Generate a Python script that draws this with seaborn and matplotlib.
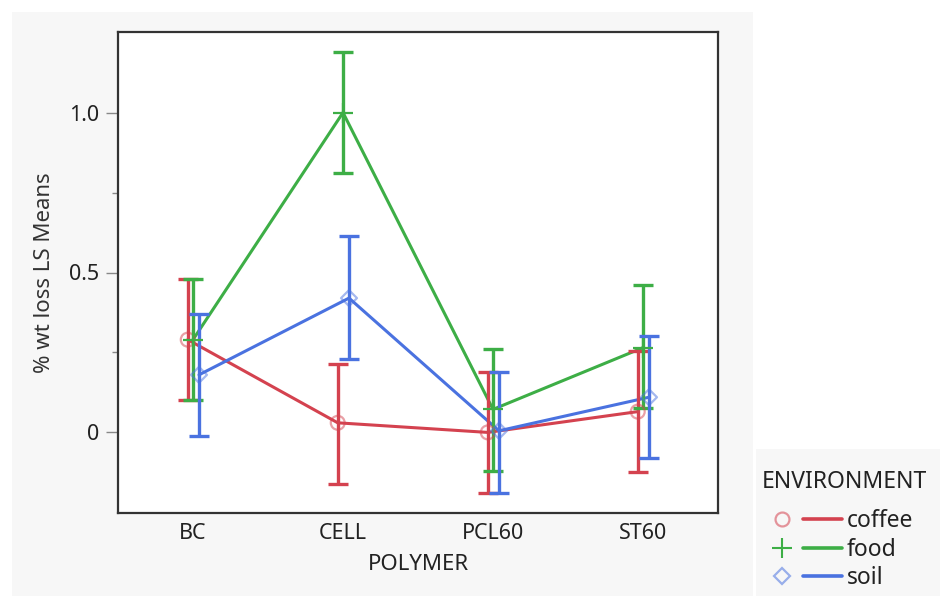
import matplotlib
matplotlib.use("Agg")
import matplotlib.pyplot as plt
from matplotlib.patches import Rectangle
from matplotlib.lines import Line2D
from matplotlib.legend_handler import HandlerTuple
import numpy as np
import pandas as pd
import seaborn as sns

# LS means of % weight loss by polymer and environment, with interval bounds
polymers = ["BC", "CELL", "PCL60", "ST60"]
environments = ["coffee", "food", "soil"]

coffee_mean = [0.29, 0.03, 0.00, 0.065]
coffee_low = [0.10, -0.16, -0.19, -0.125]
coffee_high = [0.48, 0.215, 0.19, 0.255]

food_mean = [0.29, 1.00, 0.072, 0.265]
food_low = [0.10, 0.81, -0.12, 0.075]
food_high = [0.48, 1.19, 0.26, 0.46]

soil_mean = [0.18, 0.42, 0.005, 0.11]
soil_low = [-0.01, 0.23, -0.19, -0.08]
soil_high = [0.37, 0.615, 0.19, 0.30]

yticks = [0, 0.5, 1.0]
ytick_labels = ["0", "0.5", "1.0"]

colors = {"coffee": "#D4424F", "food": "#3DAE46", "soil": "#4A72E0"}
markers = {"coffee": "o", "food": "+", "soil": "D"}
offsets = {"coffee": -0.035, "food": 0.0, "soil": 0.04}

rows = []
for env, m, lo, hi in [("coffee", coffee_mean, coffee_low, coffee_high),
                       ("food", food_mean, food_low, food_high),
                       ("soil", soil_mean, soil_low, soil_high)]:
    for i, p in enumerate(polymers):
        rows.append({"POLYMER": p, "ENVIRONMENT": env, "pos": i + offsets[env],
                     "mean": m[i], "low": lo[i], "high": hi[i]})
df = pd.DataFrame(rows)

sns.set_theme(style="white")
plt.rcParams["font.family"] = ["Noto Sans", "DejaVu Sans"]
TEXT = "#222222"

fig = plt.figure(figsize=(9.4, 5.96), dpi=100)
fig.patch.set_facecolor("white")
# grey panels behind the plot and the legend
fig.patches.append(Rectangle((12 / 940, 0), 741 / 940, 584 / 596, transform=fig.transFigure,
                             facecolor="#f7f7f7", edgecolor="none", zorder=-10))
fig.patches.append(Rectangle((756 / 940, 0), 184 / 940, 147 / 596, transform=fig.transFigure,
                             facecolor="#f7f7f7", edgecolor="none", zorder=-10))

ax = fig.add_axes([118 / 940, 83 / 596, 600 / 940, 481 / 596])
ax.set_facecolor("white")

sns.lineplot(data=df, x="pos", y="mean", hue="ENVIRONMENT", palette=colors,
             hue_order=environments, linewidth=2.2, legend=False, ax=ax,
             sort=True, zorder=3)

for env in environments:
    sub = df[df["ENVIRONMENT"] == env]
    c = colors[env]
    ax.errorbar(sub["pos"], sub["mean"],
                yerr=[sub["mean"] - sub["low"], sub["high"] - sub["mean"]],
                fmt="none", ecolor=c, elinewidth=2.4, capsize=7.2, capthick=2.4, zorder=4)
    if env == "food":
        ax.scatter(sub["pos"], sub["mean"], marker="+", s=210, color=c,
                   linewidths=1.6, zorder=5)
    elif env == "coffee":
        ax.scatter(sub["pos"], sub["mean"], marker="o", s=100, facecolors="none",
                   edgecolors=c, linewidths=1.6, alpha=0.5, zorder=5)
    else:
        ax.scatter(sub["pos"], sub["mean"], marker="D", s=66, facecolors="none",
                   edgecolors=c, linewidths=1.6, alpha=0.5, zorder=5)

ax.set_xlim(-0.5, 3.5)
ax.set_ylim(-0.252, 1.252)
ax.set_xticks(range(len(polymers)))
ax.set_xticklabels(polymers)
ax.set_yticks(yticks)
ax.set_yticklabels(ytick_labels)
ax.set_yticks([0.25, 0.75], minor=True)
ax.tick_params(axis="y", which="major", direction="out", left=True, length=8.5,
               width=1, color="#888888", labelsize=15.5, labelcolor=TEXT, pad=5)
ax.tick_params(axis="y", which="minor", direction="out", left=True, length=4.3,
               width=1, color="#888888")
ax.tick_params(axis="x", bottom=False, length=0, labelsize=15.5, labelcolor=TEXT, pad=7)

for side in ["left", "right", "top", "bottom"]:
    ax.spines[side].set_visible(True)
    ax.spines[side].set_color("#333333")
    ax.spines[side].set_linewidth(1.6)

ax.set_xlabel("POLYMER", fontsize=16, color=TEXT, labelpad=7.5)
ax.set_ylabel("% wt loss LS Means", fontsize=16, color="#333333", labelpad=10)

handles = []
for env in environments:
    c = colors[env]
    if env == "food":
        mk = Line2D([], [], linestyle="none", marker="+", markersize=14, color=c,
                    markeredgewidth=1.5)
    elif env == "coffee":
        mk = Line2D([], [], linestyle="none", marker="o", markersize=10,
                    markerfacecolor="none", markeredgecolor=c, markeredgewidth=1.6,
                    alpha=0.55)
    else:
        mk = Line2D([], [], linestyle="none", marker="D", markersize=8,
                    markerfacecolor="none", markeredgecolor=c, markeredgewidth=1.6,
                    alpha=0.55)
    ln = Line2D([], [], color=c, linewidth=2.6)
    handles.append((mk, ln))

leg = fig.legend(handles, environments, title="ENVIRONMENT",
                 handler_map={tuple: HandlerTuple(ndivide=None, pad=0.09)},
                 loc="upper left", bbox_to_anchor=(762 / 940, (596 - 470) / 596),
                 frameon=False, fontsize=16.5, title_fontsize=16.5,
                 handlelength=3.5, handletextpad=0.2, labelspacing=0.2,
                 borderaxespad=0, borderpad=0)
leg._legend_box.align = "left"
# extra gap between the legend title and its entries
leg._legend_box.sep = 11
leg.get_title().set_color(TEXT)
for t in leg.get_texts():
    t.set_color(TEXT)

fig.savefig("out.png", dpi=100, facecolor="white")
